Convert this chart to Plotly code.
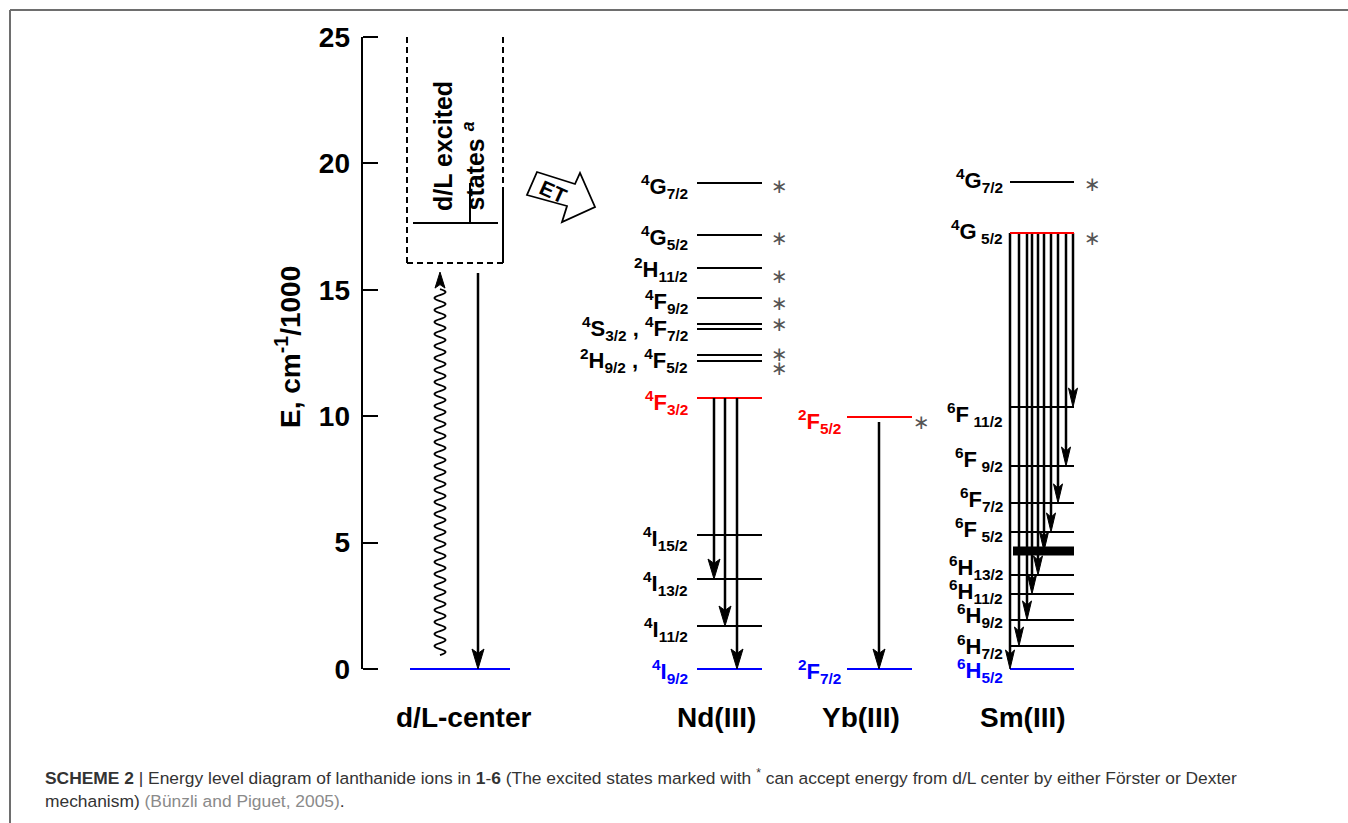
import plotly.graph_objects as go

# ---------------- data (energies in cm^-1/1000) ----------------
ytick_vals = [0, 5, 10, 15, 20, 25]
column_names = ["d/L-center", "Nd(III)", "Yb(III)", "Sm(III)"]

# d/L centre
dl_ground_E = 0.0
dl_box_bottom_E = 16.06
dl_box_top_E = 25.0
dl_box_solid_from_E = 18.83
dl_excited_level_E = 17.64
dl_excited_tick_top_E = 19.22
dl_absorb_E = [0.55, 15.70]     # wavy (non-radiative) arrow, bottom -> top
dl_emit_E = [15.66, 0.0]        # radiative arrow, top -> bottom

# Nd(III)
nd_level_E = [19.22, 17.17, 15.86, 14.68, 13.65, 13.45, 12.42, 12.18, 10.72, 5.30, 3.56, 1.70, 0.0]
nd_level_color = ["black"] * 8 + ["red"] + ["black"] * 3 + ["blue"]
nd_label_text = ["<sup>4</sup>G<sub>7/2</sub>", "<sup>4</sup>G<sub>5/2</sub>",
                 "<sup>2</sup>H<sub>11/2</sub>", "<sup>4</sup>F<sub>9/2</sub>",
                 "<sup>4</sup>S<sub>3/2</sub> , <sup>4</sup>F<sub>7/2</sub>",
                 "<sup>2</sup>H<sub>9/2</sub> , <sup>4</sup>F<sub>5/2</sub>",
                 "<sup>4</sup>F<sub>3/2</sub>", "<sup>4</sup>I<sub>15/2</sub>",
                 "<sup>4</sup>I<sub>13/2</sub>", "<sup>4</sup>I<sub>11/2</sub>",
                 "<sup>4</sup>I<sub>9/2</sub>"]
nd_label_E = [19.10, 17.05, 15.80, 14.55, 13.45, 12.20, 10.55, 5.15, 3.40, 1.55, -0.10]
nd_label_color = ["black"] * 6 + ["red"] + ["black"] * 3 + ["blue"]
nd_emit_from_E = 10.72
nd_emit_to_E = [3.56, 1.70, 0.0]
nd_star_E = [19.11, 17.05, 15.55, 14.48, 13.65, 12.46, 11.91]

# Yb(III)
yb_level_E = [9.97, 0.0]
yb_level_color = ["red", "blue"]
yb_label_text = ["<sup>2</sup>F<sub>5/2</sub>", "<sup>2</sup>F<sub>7/2</sub>"]
yb_label_E = [9.80, -0.08]
yb_label_color = ["red", "blue"]
yb_emit_from_E = 9.77
yb_emit_to_E = [0.0]
yb_star_E = [9.77]

# Sm(III)
sm_level_E = [19.26, 17.25, 10.36, 8.03, 6.57, 5.42, 4.67, 3.72, 2.97, 1.94, 0.91, 0.0]
sm_level_color = ["black", "red"] + ["black"] * 9 + ["blue"]
sm_level_thick = [False] * 6 + [True] + [False] * 5
sm_label_text = ["<sup>4</sup>G<sub>7/2</sub>", "<sup>4</sup>G\u2009<sub>5/2</sub>",
                 "<sup>6</sup>F\u2009<sub>11/2</sub>", "<sup>6</sup>F\u2009<sub>9/2</sub>",
                 "<sup>6</sup>F<sub>7/2</sub>", "<sup>6</sup>F\u2009<sub>5/2</sub>",
                 "<sup>6</sup>H<sub>13/2</sub>", "<sup>6</sup>H<sub>11/2</sub>",
                 "<sup>6</sup>H<sub>9/2</sub>", "<sup>6</sup>H<sub>7/2</sub>",
                 "<sup>6</sup>H<sub>5/2</sub>"]
sm_label_E = [19.34, 17.29, 10.05, 8.27, 6.72, 5.50, 4.03, 3.05, 2.10, 0.91, -0.04]
sm_label_color = ["black"] * 10 + ["blue"]
sm_emit_from_E = 17.25
sm_emit_to_E = [10.36, 8.03, 6.57, 5.42, 4.67, 3.72, 2.97, 1.94, 0.91, 0.0]
sm_star_E = [19.19, 17.05]

caption_line1 = ("<b>SCHEME 2</b> | Energy level diagram of lanthanide ions in <b>1</b>-<b>6</b> "
                 "(The excited states marked with <sup>*</sup> can accept energy from d/L center "
                 "by either Förster or Dexter")
caption_line2 = ("mechanism) <span style='color:#8a8a8a'>(Bünzli and Piguet, 2005)</span>.")

# ---------------- layout constants (pixels) ----------------
W, H = 1348, 823
PLOT_L, PLOT_R = 300, 1140          # x axis units are pixels
PLOT_T, PLOT_B = 35, 681
Y0_PX, PXU = 669, 25.28             # pixel row of E = 0 and pixels per unit
AXIS_X = 362
FONT = "Liberation Sans, Arial, Helvetica, sans-serif"

cols = {
    "dl": dict(x0=410, x1=510, name_x=463),
    "nd": dict(x0=697, x1=762, label_r=690, star_x=779, name_x=716,
               emit_x=[714, 725, 737]),
    "yb": dict(x0=847, x1=912, label_r=843, star_x=921, name_x=861,
               emit_x=[879]),
    "sm": dict(x0=1010, x1=1074, thick_x0=1013, label_r=1005, star_x=1092, name_x=1023,
               emit_x=[1073, 1066, 1058, 1051, 1044, 1038, 1032, 1027, 1019, 1010]),
}


def e_px(py):
    return (Y0_PX - py) / PXU


def d_e(pixels):
    return pixels / PXU


def paper_x(px):
    return (px - PLOT_L) / (PLOT_R - PLOT_L)


def paper_y(py):
    return (PLOT_B - py) / (PLOT_B - PLOT_T)


fig = go.Figure()


def add_line(xs, ys, color="black", width=2, dash=None):
    fig.add_trace(go.Scatter(x=xs, y=ys, mode="lines",
                             line=dict(color=color, width=width, dash=dash),
                             hoverinfo="skip", showlegend=False))


def add_head(x, e_tip, direction, length=20, half_w=6):
    # direction -1: pointing down, +1: pointing up
    back = e_tip - direction * d_e(length)
    notch = e_tip - direction * d_e(length * 0.78)
    fig.add_trace(go.Scatter(x=[x, x - half_w, x, x + half_w, x],
                             y=[e_tip, back, notch, back, e_tip],
                             mode="lines", fill="toself", fillcolor="black",
                             line=dict(color="black", width=1),
                             hoverinfo="skip", showlegend=False))


def add_arrow(x, e_from, e_to, length=20, half_w=6, width=2.5):
    direction = 1 if e_to > e_from else -1
    add_line([x, x], [e_from, e_to - direction * d_e(length * 0.6)], width=width)
    add_head(x, e_to, direction, length, half_w)


def add_level_label(x_right, e, text, color):
    fig.add_annotation(x=x_right, y=e, text=text, showarrow=False, xanchor="right",
                       yanchor="middle", font=dict(family=FONT, size=22, color=color,
                                                   weight="bold"))


def add_star(x, e):
    fig.add_annotation(x=x, y=e, text="\u2217", showarrow=False, xanchor="center",
                       yanchor="middle", font=dict(family="DejaVu Sans", size=20, color="#555555"))


# ---------------- d/L centre ----------------
c = cols["dl"]
add_line([c["x0"], c["x1"]], [dl_ground_E, dl_ground_E], color="blue", width=2)
add_line([407, 407], [dl_box_top_E, dl_box_bottom_E], dash="6px,4px")
add_line([407, 503], [dl_box_bottom_E, dl_box_bottom_E], dash="6px,4px")
add_line([503, 503], [dl_box_top_E, dl_box_solid_from_E], dash="6px,4px")
add_line([503, 503], [dl_box_solid_from_E, dl_box_bottom_E])
add_line([413, 498], [dl_excited_level_E, dl_excited_level_E])
add_line([470, 470], [dl_excited_tick_top_E, dl_excited_level_E])

# wavy non-radiative arrow
wx, amp, half = 440, 11, 6.0
head_len = 16
start_py = Y0_PX - dl_absorb_E[0] * PXU
end_py = Y0_PX - dl_absorb_E[1] * PXU + head_len * 0.7
path = f"M {wx},{e_px(start_py)} Q {wx + amp},{e_px(start_py - half / 2)} {wx},{e_px(start_py - half)}"
py = start_py - half
while py - half >= end_py:
    py -= half
    path += f" T {wx},{e_px(py)}"
fig.add_shape(type="path", path=path, xref="x", yref="y",
              line=dict(color="black", width=2))
add_head(wx, dl_absorb_E[1], 1, length=head_len, half_w=5)

add_arrow(478, dl_emit_E[0], dl_emit_E[1], length=20, half_w=6)

fig.add_annotation(x=443, y=e_px(213), text="d/L excited", textangle=-90, showarrow=False,
                   xanchor="center", yanchor="bottom",
                   font=dict(family=FONT, size=25, color="black", weight="bold"))
fig.add_annotation(x=473, y=e_px(213), text="states <sup><i>a</i></sup>", textangle=-90,
                   showarrow=False, xanchor="center", yanchor="bottom",
                   font=dict(family=FONT, size=25, color="black", weight="bold"))

# ET block arrow
et_pts = [(537, 172), (575, 184), (580, 173), (595, 207), (562, 222), (567, 206), (527, 195)]
et_path = "M " + " L ".join(f"{px},{e_px(py)}" for px, py in et_pts) + " Z"
fig.add_shape(type="path", path=et_path, xref="x", yref="y",
              line=dict(color="black", width=1.8), fillcolor="white")
fig.add_annotation(x=553, y=e_px(191), text="ET", textangle=24, showarrow=False,
                   font=dict(family=FONT, size=21, color="black", weight="bold"))

# ---------------- Nd(III) ----------------
c = cols["nd"]
for e, col in zip(nd_level_E, nd_level_color):
    add_line([c["x0"], c["x1"]], [e, e], color=col, width=2)
for x, e_to in zip(c["emit_x"], nd_emit_to_E):
    add_arrow(x, nd_emit_from_E, e_to, length=20, half_w=6)
for t, e, col in zip(nd_label_text, nd_label_E, nd_label_color):
    add_level_label(c["label_r"], e, t, col)
for e in nd_star_E:
    add_star(c["star_x"], e)

# ---------------- Yb(III) ----------------
c = cols["yb"]
for e, col in zip(yb_level_E, yb_level_color):
    add_line([c["x0"], c["x1"]], [e, e], color=col, width=2)
for x, e_to in zip(c["emit_x"], yb_emit_to_E):
    add_arrow(x, yb_emit_from_E, e_to, length=20, half_w=6)
for t, e, col in zip(yb_label_text, yb_label_E, yb_label_color):
    add_level_label(c["label_r"], e, t, col)
for e in yb_star_E:
    add_star(c["star_x"], e)

# ---------------- Sm(III) ----------------
c = cols["sm"]
for e, col, thick in zip(sm_level_E, sm_level_color, sm_level_thick):
    if thick:
        add_line([c["thick_x0"], c["x1"]], [e, e], color=col, width=9)
    elif col != "red":
        add_line([c["x0"], c["x1"]], [e, e], color=col, width=2)
for x, e_to in zip(c["emit_x"], sm_emit_to_E):
    add_arrow(x, sm_emit_from_E, e_to, length=19, half_w=4.5, width=2.5)
for e, col in zip(sm_level_E, sm_level_color):
    if col == "red":
        add_line([c["x0"], c["x1"]], [e, e], color=col, width=2)
for t, e, col in zip(sm_label_text, sm_label_E, sm_label_color):
    add_level_label(c["label_r"], e, t, col)
for e in sm_star_E:
    add_star(c["star_x"], e)

# ---------------- column names (below the axis range -> paper y) ----------------
for key, name in zip(["dl", "nd", "yb", "sm"], column_names):
    fig.add_annotation(xref="x", yref="paper", x=cols[key]["name_x"], y=paper_y(717),
                       text=name, showarrow=False, xanchor="center", yanchor="middle",
                       font=dict(family=FONT, size=28, color="black", weight="bold"))

# y axis line (0..25) and title
fig.add_shape(type="line", x0=AXIS_X, x1=AXIS_X, y0=ytick_vals[0], y1=ytick_vals[-1],
              xref="x", yref="y", line=dict(color="black", width=2))
fig.add_annotation(xref="paper", yref="paper", x=paper_x(288), y=paper_y(347),
                   text="E, cm<sup>-1</sup>/1000", textangle=-90,
                   showarrow=False, xanchor="center", yanchor="middle",
                   font=dict(family=FONT, size=28, color="black", weight="bold"))

# ---------------- frame and caption ----------------
fig.add_shape(type="line", xref="paper", yref="paper", x0=paper_x(10), x1=paper_x(W),
              y0=paper_y(10), y1=paper_y(10), line=dict(color="#6e6e6e", width=2))
fig.add_shape(type="line", xref="paper", yref="paper", x0=paper_x(10), x1=paper_x(10),
              y0=paper_y(10), y1=paper_y(H), line=dict(color="#6e6e6e", width=2))
fig.add_annotation(xref="paper", yref="paper", x=paper_x(43), y=paper_y(777),
                   text=caption_line1, showarrow=False, xanchor="left", yanchor="middle",
                   align="left", font=dict(family=FONT, size=17.4, color="#333333"))
fig.add_annotation(xref="paper", yref="paper", x=paper_x(43), y=paper_y(801),
                   text=caption_line2, showarrow=False, xanchor="left", yanchor="middle",
                   align="left", font=dict(family=FONT, size=17.4, color="#333333"))

fig.update_layout(
    width=W, height=H,
    margin=dict(l=PLOT_L, r=W - PLOT_R, t=PLOT_T, b=H - PLOT_B, pad=0),
    paper_bgcolor="white", plot_bgcolor="white",
    showlegend=False,
    xaxis=dict(range=[PLOT_L, PLOT_R], visible=False, fixedrange=True),
    yaxis=dict(range=[e_px(PLOT_B), e_px(PLOT_T)], anchor="free",
               position=paper_x(AXIS_X), showline=False, showgrid=False, zeroline=False,
               ticks="inside", ticklen=15, tickwidth=2, tickcolor="black",
               tickvals=ytick_vals, ticktext=[str(v) for v in ytick_vals],
               ticklabelstandoff=12,
               tickfont=dict(family=FONT, size=28, color="black", weight="bold"),
               fixedrange=True),
)

fig.write_html("out.html")
